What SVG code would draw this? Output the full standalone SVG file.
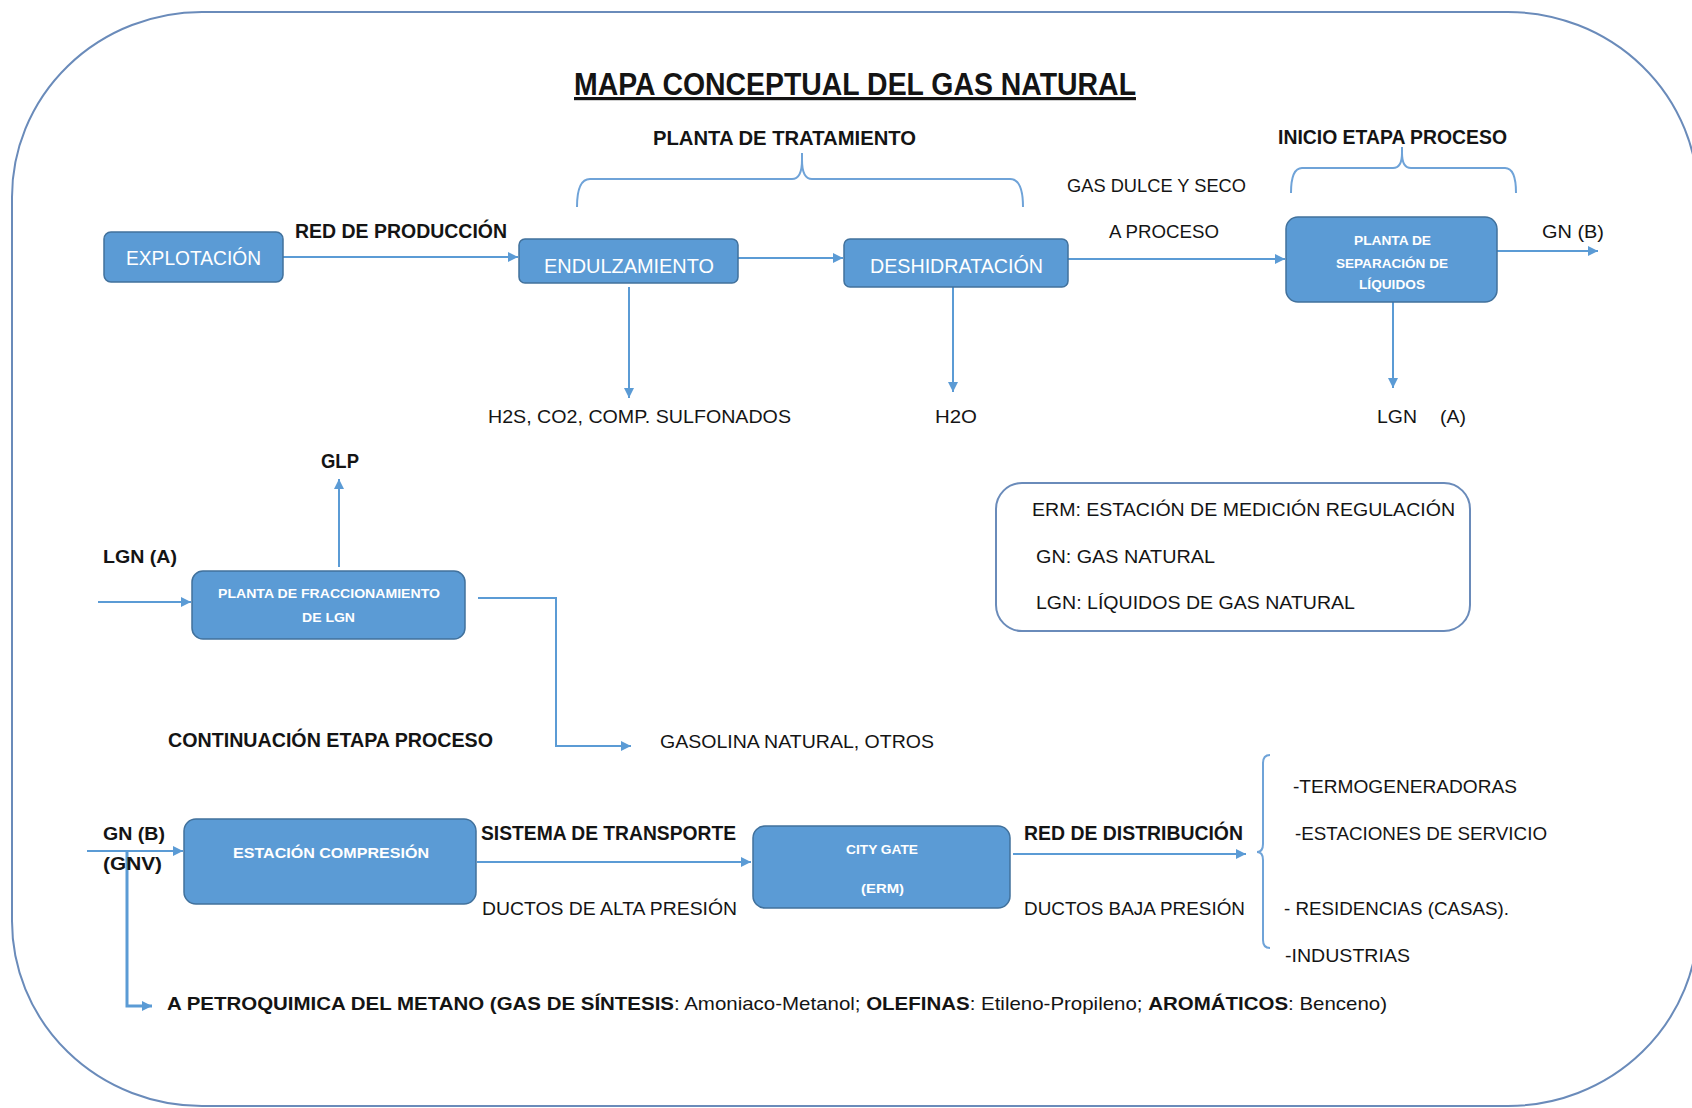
<svg xmlns="http://www.w3.org/2000/svg" width="1692" height="1108" viewBox="0 0 1692 1108">
<style>
.t{font-family:"Liberation Sans",Arial,sans-serif;font-size:19px;fill:#141414}
.b{font-weight:bold}
.lb{font-family:"Liberation Sans",Arial,sans-serif;font-size:20px;font-weight:bold;fill:#141414}
.bx{fill:#5B9BD5;stroke:#41719C;stroke-width:1.5}
.bt{font-family:"Liberation Sans",Arial,sans-serif;fill:#ffffff}
.c{fill:none;stroke:#5B9BD5;stroke-width:2}
.br{fill:none;stroke:#6FA3D8;stroke-width:2}
</style>
<defs>
<marker id="ah" viewBox="0 0 10 10" refX="10" refY="5" markerWidth="11" markerHeight="10" markerUnits="userSpaceOnUse" orient="auto">
<path d="M0,0 L10,5 L0,10 z" fill="#5B9BD5"/>
</marker>
</defs>
<rect width="1692" height="1108" fill="#ffffff"/>
<rect id="frame" x="12" y="12" width="1686" height="1094" rx="190" ry="185" fill="none" stroke="#6A8BBA" stroke-width="2"/>

<text id="title" class="lb" x="574" y="95" style="font-size:32px" textLength="562" lengthAdjust="spacingAndGlyphs" text-decoration="underline">MAPA CONCEPTUAL DEL GAS NATURAL</text>

<g id="braces">
<path class="br" d="M577,207 Q577,179 590,179 H792 Q802,179 802,160 V153 M802,160 Q802,179 812,179 H1010 Q1023,179 1023,207"/>
<path class="br" d="M1291,193 Q1291,168 1302,168 H1393 Q1402,168 1402,153 V147 M1402,153 Q1402,168 1411,168 H1505 Q1516,168 1516,193"/>
<path class="br" d="M1270,755 Q1263,755 1263,763 V844 Q1263,852 1257,852 Q1263,852 1263,860 V940 Q1263,948 1270,948"/>
</g>

<g id="connectors">
<path class="c" d="M283,257 H518" marker-end="url(#ah)"/>
<path class="c" d="M738,258 H843" marker-end="url(#ah)"/>
<path class="c" d="M1068,259 H1285" marker-end="url(#ah)"/>
<path class="c" d="M1497,251 H1598" marker-end="url(#ah)"/>
<path class="c" d="M629,287 V398" marker-end="url(#ah)"/>
<path class="c" d="M953,287 V392" marker-end="url(#ah)"/>
<path class="c" d="M1393,302 V388" marker-end="url(#ah)"/>
<path class="c" d="M98,602 H191" marker-end="url(#ah)"/>
<path class="c" d="M339,567 V479" marker-end="url(#ah)"/>
<path class="c" d="M478,598 H556 V746 H631" marker-end="url(#ah)"/>
<path class="c" d="M87,851 H183" marker-end="url(#ah)"/>
<path class="c" style="stroke-width:3" d="M127,851 V1006 H152" marker-end="url(#ah)"/>
<path class="c" d="M477,862 H751" marker-end="url(#ah)"/>
<path class="c" d="M1013,854 H1246" marker-end="url(#ah)"/>
</g>

<g id="explotacion">
<rect class="bx" x="104" y="232" width="179" height="50" rx="7"/>
<text class="bt" x="126" y="265" style="font-size:20px" textLength="135" lengthAdjust="spacingAndGlyphs">EXPLOTACIÓN</text>
</g>
<g id="endulzamiento">
<rect class="bx" x="519" y="239" width="219" height="44" rx="6"/>
<text class="bt" x="544" y="273" style="font-size:20px" textLength="170" lengthAdjust="spacingAndGlyphs">ENDULZAMIENTO</text>
</g>
<g id="deshidratacion">
<rect class="bx" x="844" y="239" width="224" height="48" rx="6"/>
<text class="bt" x="870" y="273" style="font-size:20px" textLength="173" lengthAdjust="spacingAndGlyphs">DESHIDRATACIÓN</text>
</g>
<g id="separacion">
<rect class="bx" x="1286" y="217" width="211" height="85" rx="12"/>
<text class="bt b" x="1354" y="245" style="font-size:13px" textLength="77" lengthAdjust="spacingAndGlyphs">PLANTA DE</text>
<text class="bt b" x="1336" y="268" style="font-size:13px" textLength="112" lengthAdjust="spacingAndGlyphs">SEPARACIÓN DE</text>
<text class="bt b" x="1359" y="289" style="font-size:13px" textLength="66" lengthAdjust="spacingAndGlyphs">LÍQUIDOS</text>
</g>
<g id="fraccionamiento">
<rect class="bx" x="192" y="571" width="273" height="68" rx="11"/>
<text class="bt b" x="218" y="598" style="font-size:12.5px" textLength="222" lengthAdjust="spacingAndGlyphs">PLANTA DE FRACCIONAMIENTO</text>
<text class="bt b" x="302" y="622" style="font-size:12.5px" textLength="53" lengthAdjust="spacingAndGlyphs">DE LGN</text>
</g>
<g id="compresion">
<rect class="bx" x="184" y="819" width="292" height="85" rx="12"/>
<text class="bt b" x="233" y="858" style="font-size:15px" textLength="196" lengthAdjust="spacingAndGlyphs">ESTACIÓN COMPRESIÓN</text>
</g>
<g id="citygate">
<rect class="bx" x="753" y="826" width="257" height="82" rx="12"/>
<text class="bt b" x="846" y="854" style="font-size:13px" textLength="72" lengthAdjust="spacingAndGlyphs">CITY GATE</text>
<text class="bt b" x="861" y="893" style="font-size:13px" textLength="43" lengthAdjust="spacingAndGlyphs">(ERM)</text>
</g>
<g id="legend">
<rect x="996" y="483" width="474" height="148" rx="26" fill="none" stroke="#6A8BBA" stroke-width="2"/>
<text class="t" x="1032" y="516" textLength="423" lengthAdjust="spacingAndGlyphs">ERM: ESTACIÓN DE MEDICIÓN REGULACIÓN</text>
<text class="t" x="1036" y="563" textLength="179" lengthAdjust="spacingAndGlyphs">GN: GAS NATURAL</text>
<text class="t" x="1036" y="609" textLength="319" lengthAdjust="spacingAndGlyphs">LGN: LÍQUIDOS DE GAS NATURAL</text>
</g>

<g id="labels">
<text class="lb" x="653" y="145" textLength="263" lengthAdjust="spacingAndGlyphs">PLANTA DE TRATAMIENTO</text>
<text class="lb" x="1278" y="144" textLength="229" lengthAdjust="spacingAndGlyphs">INICIO ETAPA PROCESO</text>
<text class="t" x="1067" y="192" textLength="179" lengthAdjust="spacingAndGlyphs">GAS DULCE Y SECO</text>
<text class="t" x="1109" y="238" textLength="110" lengthAdjust="spacingAndGlyphs">A PROCESO</text>
<text class="t" x="1542" y="238" textLength="62" lengthAdjust="spacingAndGlyphs">GN (B)</text>
<text class="lb" x="295" y="238" textLength="212" lengthAdjust="spacingAndGlyphs">RED DE PRODUCCIÓN</text>
<text class="t" x="488" y="423" textLength="303" lengthAdjust="spacingAndGlyphs">H2S, CO2, COMP. SULFONADOS</text>
<text class="t" x="935" y="423" textLength="42" lengthAdjust="spacingAndGlyphs">H2O</text>
<text class="t" x="1377" y="423" textLength="40" lengthAdjust="spacingAndGlyphs">LGN</text>
<text class="t" x="1440" y="423" textLength="26" lengthAdjust="spacingAndGlyphs">(A)</text>
<text class="lb" x="321" y="468" textLength="38" lengthAdjust="spacingAndGlyphs">GLP</text>
<text class="lb" x="103" y="563" style="font-size:19px" textLength="74" lengthAdjust="spacingAndGlyphs">LGN (A)</text>
<text class="lb" x="168" y="747" textLength="325" lengthAdjust="spacingAndGlyphs">CONTINUACIÓN ETAPA PROCESO</text>
<text class="t" x="660" y="748" textLength="274" lengthAdjust="spacingAndGlyphs">GASOLINA NATURAL, OTROS</text>
<text class="lb" x="103" y="840" style="font-size:19px" textLength="62" lengthAdjust="spacingAndGlyphs">GN (B)</text>
<text class="lb" x="103" y="870" style="font-size:19px" textLength="59" lengthAdjust="spacingAndGlyphs">(GNV)</text>
<text class="lb" x="481" y="840" textLength="255" lengthAdjust="spacingAndGlyphs">SISTEMA DE TRANSPORTE</text>
<text class="t" x="482" y="915" textLength="255" lengthAdjust="spacingAndGlyphs">DUCTOS DE ALTA PRESIÓN</text>
<text class="lb" x="1024" y="840" textLength="219" lengthAdjust="spacingAndGlyphs">RED DE DISTRIBUCIÓN</text>
<text class="t" x="1024" y="915" textLength="221" lengthAdjust="spacingAndGlyphs">DUCTOS BAJA PRESIÓN</text>
<text class="t" x="1293" y="793" textLength="224" lengthAdjust="spacingAndGlyphs">-TERMOGENERADORAS</text>
<text class="t" x="1295" y="840" textLength="252" lengthAdjust="spacingAndGlyphs">-ESTACIONES DE SERVICIO</text>
<text class="t" x="1284" y="915" textLength="225" lengthAdjust="spacingAndGlyphs">- RESIDENCIAS (CASAS).</text>
<text class="t" x="1285" y="962" textLength="125" lengthAdjust="spacingAndGlyphs">-INDUSTRIAS</text>
<text class="t" x="167" y="1010" textLength="1220" lengthAdjust="spacingAndGlyphs"><tspan class="b">A PETROQUIMICA DEL METANO (GAS DE SÍNTESIS</tspan>: Amoniaco-Metanol; <tspan class="b">OLEFINAS</tspan>: Etileno-Propileno; <tspan class="b">AROMÁTICOS</tspan>: Benceno)</text>
</g>
</svg>
